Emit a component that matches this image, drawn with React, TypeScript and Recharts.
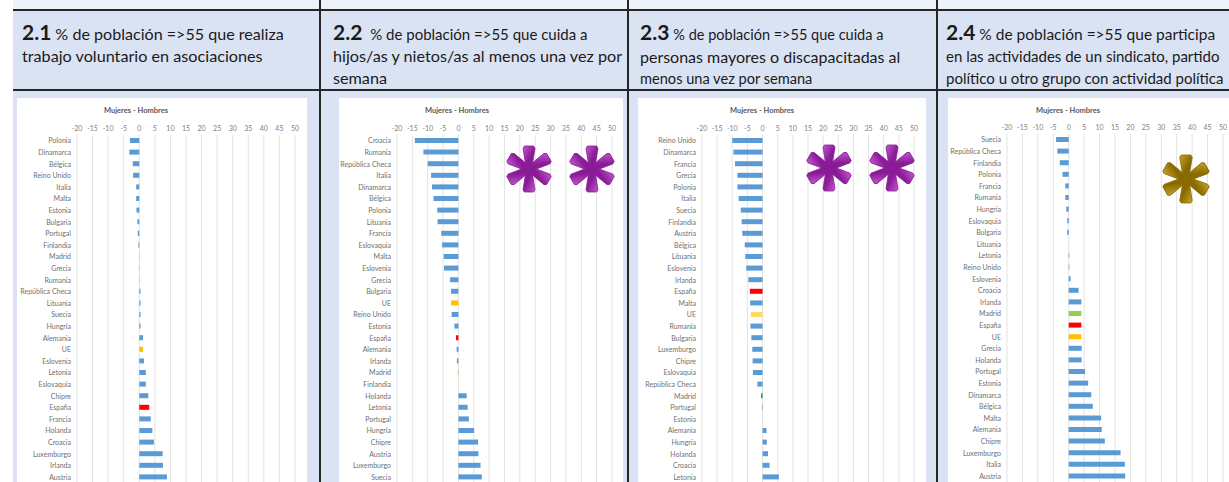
import { Bar, BarChart, CartesianGrid, Cell, XAxis, YAxis } from 'recharts';

// eje comun a los cuatro graficos
const ticks = [-20, -15, -10, -5, 0, 5, 10, 15, 20, 25, 30, 35, 40, 45, 50];

// 2.1 trabajo voluntario
const paises21 = [
  'Polonia', 'Dinamarca', 'Bélgica', 'Reino Unido', 'Italia', 'Malta', 'Estonia', 'Bulgaria',
  'Portugal', 'Finlandia', 'Madrid', 'Grecia', 'Rumanía', 'República Checa', 'Lituania', 'Suecia',
  'Hungría', 'Alemania', 'UE', 'Eslovenia', 'Letonia', 'Eslovaquia', 'Chipre', 'España',
  'Francia', 'Holanda', 'Croacia', 'Luxemburgo', 'Irlanda', 'Austria',
];
const valores21 = [
  -3.0, -3.2, -2.1, -2.0, -1.0, -1.0, -0.9, -0.6, -0.5, -0.3, -0.1, 0.1, 0.1, 0.4, 0.4, 0.4,
  0.4, 1.2, 1.2, 1.5, 2.1, 2.1, 2.9, 3.2, 3.7, 4.2, 4.7, 7.5, 7.6, 8.9,
];

// 2.2 cuidado de hijos/as y nietos/as
const paises22 = [
  'Croacia', 'Rumanía', 'República Checa', 'Italia', 'Dinamarca', 'Bélgica', 'Polonia', 'Lituania',
  'Francia', 'Eslovaquia', 'Malta', 'Eslovenia', 'Grecia', 'Bulgaria', 'UE', 'Reino Unido',
  'Estonia', 'España', 'Alemania', 'Irlanda', 'Madrid', 'Finlandia', 'Holanda', 'Letonia',
  'Portugal', 'Hungría', 'Chipre', 'Austria', 'Luxemburgo', 'Suecia',
];
const valores22 = [
  -14.2, -11.4, -10.0, -8.9, -8.6, -8.1, -6.9, -6.8, -5.6, -5.3, -4.8, -4.7, -2.7, -2.4, -2.4, -2.2,
  -1.3, -0.8, -0.6, -0.5, -0.2, 0, 2.7, 3.0, 3.4, 5.1, 6.4, 6.5, 7.2, 7.6,
];

// 2.3 cuidado de personas mayores o discapacitadas
const paises23 = [
  'Reino Unido', 'Dinamarca', 'Francia', 'Grecia', 'Polonia', 'Italia', 'Suecia', 'Finlandia',
  'Austria', 'Bélgica', 'Lituania', 'Eslovenia', 'Irlanda', 'España', 'Malta', 'UE', 'Rumanía',
  'Bulgaria', 'Luxemburgo', 'Chipre', 'Eslovaquia', 'República Checa', 'Madrid', 'Portugal',
  'Estonia', 'Alemania', 'Hungría', 'Holanda', 'Croacia', 'Letonia',
];
const valores23 = [
  -10.0, -9.6, -9.1, -8.3, -8.3, -7.9, -7.2, -6.9, -6.7, -5.9, -5.7, -5.4, -4.7, -4.2, -4.1, -3.9,
  -4.0, -3.7, -3.4, -3.3, -3.2, -1.7, -0.5, -0.2, 0, 1.3, 1.4, 1.8, 2.3, 5.4,
];

// 2.4 participacion politica
const paises24 = [
  'Suecia', 'República Checa', 'Finlandia', 'Polonia', 'Francia', 'Rumanía', 'Hungría', 'Eslovaquia',
  'Bulgaria', 'Lituania', 'Letonia', 'Reino Unido', 'Eslovenia', 'Croacia', 'Irlanda', 'Madrid',
  'España', 'UE', 'Grecia', 'Holanda', 'Portugal', 'Estonia', 'Dinamarca', 'Bélgica', 'Malta',
  'Alemania', 'Chipre', 'Luxemburgo', 'Italia', 'Austria',
];
const valores24 = [
  -4.1, -3.7, -2.9, -2.0, -1.1, -1.1, -0.8, -0.5, -0.5, 0, 0.2, 0.2, 0.6, 3.2, 4.1, 4.1,
  4.1, 4.1, 4.2, 4.2, 5.3, 6.3, 7.3, 7.8, 10.5, 10.7, 11.7, 16.8, 18.2, 18.3,
];

const AZUL = '#5b9bd5';
const PAL_A = { 'España': '#ff0000', UE: '#ffc000', Madrid: '#92d050' } as Record<string, string>;
const PAL_B = { 'España': '#ff0000', UE: '#ffd966', Madrid: '#00b050' } as Record<string, string>;

const FONT = 'Lato, "Open Sans", sans-serif';
const FONDO = '#dae3f3';
const LINEA = '#262626';
const ROW = 11.6;
const YW = 90;

// sin salto de linea en los nombres largos
function TickPais({ x, y, payload }: any) {
  return (
    <text x={x} y={y} dy={2.5} textAnchor="end" fontSize={7} fill="#707070" fontFamily={FONT}>
      {payload.value}
    </text>
  );
}

function Grafico({ paises, valores, pal, plotLeft, plotRight, plotTop, titleX }: {
  paises: string[]; valores: number[]; pal: Record<string, string>;
  plotLeft: number; plotRight: number; plotTop: number; titleX: number;
}) {
  const data = paises.map((p, i) => ({ name: p, v: valores[i] }));
  const top = 102;
  const xh = 14;
  const mt = plotTop - top - xh;
  const w = YW + (plotRight - plotLeft) + 10;
  const h = mt + xh + ROW * paises.length;
  return (
    <>
      <div style={{
        position: 'absolute', left: titleX - 60, top: top + 4, width: 120, textAlign: 'center',
        fontFamily: FONT, fontSize: 7.5, fontWeight: 700, color: '#595959', lineHeight: '10px',
      }}>Mujeres - Hombres</div>
      <div style={{ position: 'absolute', left: plotLeft - YW, top }}>
        <BarChart width={w} height={h} data={data} layout="vertical"
          margin={{ top: mt, right: 10, bottom: 0, left: 0 }} barCategoryGap={0}>
          <CartesianGrid horizontal={false} stroke="#e3e3e3" />
          <XAxis type="number" domain={[-20, 50]} ticks={ticks} orientation="top" height={xh}
            interval={0} tickLine={false} axisLine={false} tickSize={0} tickMargin={4}
            tick={{ fontSize: 7, fill: '#7f7f7f', fontFamily: FONT }} />
          <YAxis type="category" dataKey="name" width={YW} interval={0} tickLine={false}
            axisLine={false} tickSize={0} tickMargin={6} tick={<TickPais />} />
          <Bar dataKey="v" barSize={5} isAnimationActive={false}>
            {data.map((d, i) => (
              <Cell key={i} fill={pal[d.name] ?? AZUL} />
            ))}
          </Bar>
        </BarChart>
      </div>
    </>
  );
}

function Asterisco({ cx, cy, size, c1, c2, id }: {
  cx: number; cy: number; size: number; c1: string; c2: string; id: string;
}) {
  const r = size / 2;
  const arm = `-2.6,0 2.6,0 ${r * 0.26},${-r * 0.9} ${r * 0.2},${-r} ${-r * 0.2},${-r} ${-r * 0.26},${-r * 0.9}`;
  return (
    <svg style={{ position: 'absolute', left: cx - r - 2, top: cy - r - 2 }} width={size + 4} height={size + 4}>
      <defs>
        <linearGradient id={id} x1="0" y1="0" x2="1" y2="1">
          <stop offset="0%" stopColor={c2} />
          <stop offset="55%" stopColor={c1} />
          <stop offset="100%" stopColor={c1} />
        </linearGradient>
      </defs>
      <g transform={`translate(${r + 2},${r + 2})`}>
        {[0, 60, 120, 180, 240, 300].map((a) => (
          <polygon key={a} points={arm} transform={`rotate(${a})`} fill={`url(#${id})`}
            stroke={c1} strokeWidth={0.8} strokeLinejoin="round" />
        ))}
        <circle r={4} fill={c1} />
      </g>
    </svg>
  );
}

function Cabecera({ left, num, lines, sizes }: { left: number; num: string; lines: string[]; sizes: number[] }) {
  return (
    <div style={{
      position: 'absolute', left, top: 21, fontFamily: FONT, lineHeight: '22px',
      color: '#1a1a1a', whiteSpace: 'nowrap',
    }}>
      {lines.map((l, i) => (
        <div key={i} style={{ fontSize: sizes[i] }}>
          {i === 0 && <span style={{ fontWeight: 700, fontSize: 21, marginRight: 4 }}>{num}</span>}
          {l}
        </div>
      ))}
    </div>
  );
}

export default function App() {
  return (
    <div style={{ position: 'absolute', left: 0, top: 0, width: 1229, height: 482, overflow: 'hidden', background: '#ffffff' }}>
      {/* fondo de la tabla */}
      <div style={{ position: 'absolute', left: 13, top: 0, width: 1216, height: 10, background: '#eef2fa' }} />
      <div style={{ position: 'absolute', left: 13, top: 10, width: 1216, height: 472, background: FONDO }} />
      {/* zonas blancas de los graficos */}
      <div style={{ position: 'absolute', left: 17, top: 98, width: 290, height: 400, background: '#fff' }} />
      <div style={{ position: 'absolute', left: 339, top: 98, width: 284, height: 400, background: '#fff' }} />
      <div style={{ position: 'absolute', left: 638, top: 98, width: 288, height: 400, background: '#fff' }} />
      <div style={{ position: 'absolute', left: 948, top: 98, width: 290, height: 400, background: '#fff' }} />
      {/* lineas */}
      <div style={{ position: 'absolute', left: 13, top: 9, width: 1216, height: 2, background: LINEA }} />
      <div style={{ position: 'absolute', left: 13, top: 89, width: 1216, height: 2, background: LINEA }} />
      {[319, 627, 936].map((x) => (
        <div key={x} style={{ position: 'absolute', left: x, top: 0, width: 2, height: 482, background: LINEA }} />
      ))}

      <Cabecera left={22} num="2.1" sizes={[16.1, 16.2]}
        lines={['% de población =>55 que realiza', 'trabajo voluntario en asociaciones']} />
      <Cabecera left={333} num="2.2" sizes={[15, 16.2, 16.2]}
        lines={[' % de población =>55 que cuida a', 'hijos/as y nietos/as al menos una vez por', 'semana']} />
      <Cabecera left={640} num="2.3" sizes={[14.5, 16, 14.6]}
        lines={['% de población =>55 que cuida a', 'personas mayores o discapacitadas al', 'menos una vez por semana']} />
      <Cabecera left={946} num="2.4" sizes={[15.5, 15, 15]}
        lines={['% de población =>55 que participa', 'en las actividades de un sindicato, partido', 'político u otro grupo con actividad política']} />

      <Grafico paises={paises21} valores={valores21} pal={PAL_A} plotLeft={77} plotRight={295} plotTop={135} titleX={136} />
      <Grafico paises={paises22} valores={valores22} pal={PAL_A} plotLeft={397} plotRight={612} plotTop={135} titleX={457} />
      <Grafico paises={paises23} valores={valores23} pal={PAL_B} plotLeft={702} plotRight={914} plotTop={135} titleX={762} />
      <Grafico paises={paises24} valores={valores24} pal={PAL_A} plotLeft={1007} plotRight={1223} plotTop={134} titleX={1068} />

      <Asterisco id="a1" cx={529} cy={169} size={46} c1="#8a1a96" c2="#c45ad0" />
      <Asterisco id="a2" cx={592} cy={169} size={46} c1="#8a1a96" c2="#c45ad0" />
      <Asterisco id="a3" cx={829} cy={168} size={46} c1="#8a1a96" c2="#c45ad0" />
      <Asterisco id="a4" cx={892} cy={168} size={46} c1="#8a1a96" c2="#c45ad0" />
      <Asterisco id="a5" cx={1186} cy={179} size={48} c1="#8a6a00" c2="#c9a528" />
    </div>
  );
}
